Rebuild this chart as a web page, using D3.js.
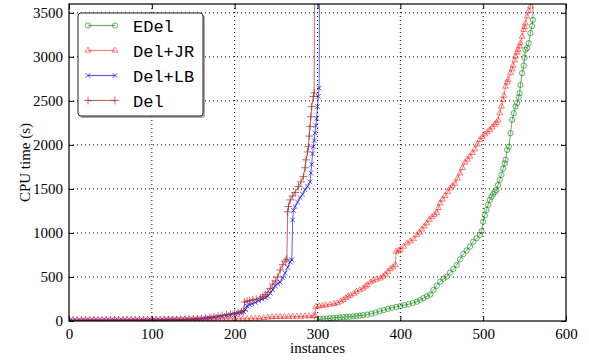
<!DOCTYPE html>
<html>
<head>
<meta charset="utf-8">
<script src="https://cdn.jsdelivr.net/npm/d3@7"></script>
<style>
  body { margin: 0; background: #fff; }
  svg text { fill: #000; }
  .serif { font-family: "Liberation Serif", "Times New Roman", "DejaVu Serif", serif; font-size: 15px; }
  .mono { font-family: "Liberation Mono", "Courier New", "DejaVu Sans Mono", monospace; font-size: 17px; }
</style>
</head>
<body>
<svg id="chart" width="589" height="360"></svg>
<script>
// axis ticks
const xTicks = [0, 100, 200, 300, 400, 500, 600];
const yTicks = [0, 500, 1000, 1500, 2000, 2500, 3000, 3500];

// [instance, CPU seconds]; 6000 = off the top (timeout)
const edel = [
  [299, 15], [303, 20], [307, 24], [311, 27], [315, 31], [319, 34], [323, 38], [327, 41], [331, 44], [335, 47],
  [339, 49], [343, 53], [347, 57], [351, 61], [355, 66], [360, 72], [365, 84], [370, 95], [375, 110], [380, 125],
  [385, 138], [390, 150], [395, 160], [400, 170], [405, 180], [410, 190], [415, 205], [420, 220], [424, 239],
  [428, 260], [432, 280], [436, 300], [440, 352], [444, 400], [448, 447], [452, 480], [456, 504], [460, 550],
  [464, 590], [468, 636], [472, 700], [476, 760], [480, 800], [484, 844], [488, 900], [492, 940], [496, 977],
  [498, 1020], [500, 1128], [502, 1200], [504, 1261], [506, 1320], [508, 1375], [510, 1410], [512, 1440],
  [514, 1465], [516, 1489], [518, 1545], [520, 1602], [522, 1660], [524, 1730], [526, 1790], [527, 1830],
  [529, 1943], [531, 1980], [533, 2133], [535, 2284], [537, 2360], [539, 2435], [541, 2474], [543, 2540],
  [544, 2587], [545, 2680], [547, 2815], [549, 2900], [550, 2990], [551, 3080], [553, 3100], [555, 3155],
  [557, 3270], [559, 3350], [560, 3420], [561, 6000]
];

const delJR = [
  [0, 13], [5, 13], [10, 13], [15, 14], [20, 14], [25, 14], [30, 14], [35, 15], [40, 15], [45, 15], [50, 15],
  [55, 16], [60, 16], [65, 16], [70, 16], [75, 17], [80, 17], [85, 17], [90, 17], [95, 18], [100, 18],
  [105, 18], [110, 18], [115, 19], [120, 19], [125, 19], [130, 19], [135, 20], [140, 20], [145, 20],
  [150, 20], [155, 21], [160, 21], [165, 21], [170, 22], [175, 22], [180, 22], [185, 23], [190, 23],
  [195, 23], [200, 24], [205, 24], [210, 25], [215, 25], [220, 26], [225, 27], [230, 29], [235, 35],
  [240, 42], [245, 45], [250, 46], [255, 47], [260, 48], [265, 49], [270, 50], [275, 51], [280, 52],
  [285, 54], [290, 56], [295, 58], [297, 60], [298, 163], [302, 168], [306, 174], [310, 180], [315, 187],
  [320, 195], [324, 205], [328, 222], [331, 239], [334, 262], [337, 280], [340, 290], [344, 312], [347, 333],
  [351, 352], [355, 370], [358, 392], [360, 409], [364, 440], [367, 460], [371, 472], [376, 485], [379, 505],
  [382, 530], [385, 560], [388, 590], [391, 612], [394, 636], [395, 788], [398, 800], [400, 810], [404, 845],
  [408, 883], [412, 905], [416, 930], [420, 977], [423, 1005], [426, 1040], [429, 1075], [432, 1110],
  [435, 1150], [438, 1180], [441, 1205], [444, 1230], [446, 1285], [448, 1337], [451, 1380], [454, 1420],
  [457, 1465], [460, 1508], [463, 1535], [466, 1560], [469, 1620], [472, 1678], [475, 1740], [478, 1800],
  [481, 1835], [484, 1867], [487, 1910], [490, 1950], [493, 2005], [496, 2057], [499, 2090], [502, 2120],
  [505, 2145], [508, 2170], [511, 2200], [514, 2230], [516, 2250], [518, 2280], [520, 2360], [522, 2436],
  [524, 2510], [525, 2560], [527, 2663], [529, 2710], [530, 2740], [533, 2815], [535, 2860], [536, 2900],
  [538, 2960], [539, 3004], [541, 3050], [542, 3080], [544, 3120], [545, 3155], [547, 3230], [549, 3307],
  [550, 3340], [551, 3380], [553, 3458], [555, 3520], [557, 3572], [558, 6000]
];

const delLB = [
  [0, 2], [5, 2], [10, 2], [15, 3], [20, 3], [25, 3], [30, 3], [35, 4], [40, 4], [45, 4], [50, 4],
  [55, 5], [60, 5], [65, 5], [70, 5], [75, 6], [80, 6], [85, 6], [90, 7], [95, 7], [100, 8], [105, 8],
  [110, 9], [115, 10], [120, 11], [125, 12], [130, 13], [135, 14], [140, 15], [145, 16], [150, 18],
  [155, 21], [160, 24], [165, 30], [170, 36], [175, 42], [180, 50], [185, 57], [190, 64], [195, 72],
  [200, 80], [204, 88], [208, 95], [211, 105], [213, 130], [215, 170], [218, 185], [221, 195], [225, 210],
  [229, 230], [233, 250], [237, 265], [240, 280], [243, 315], [246, 355], [249, 400], [252, 425], [255, 440],
  [258, 490], [261, 545], [264, 610], [267, 670], [269, 695], [270, 1148], [271, 1255], [273, 1300],
  [276, 1350], [279, 1400], [282, 1440], [285, 1490], [288, 1530], [291, 1580], [292, 1680], [293, 1780],
  [294, 1900], [295, 1980], [296, 2050], [297, 2136], [298, 2220], [299, 2300], [300, 2435], [301, 2550],
  [302, 2645], [303, 6000]
];

const del = [
  [0, 2], [5, 2], [10, 3], [15, 3], [20, 3], [25, 4], [30, 4], [35, 4], [40, 4], [45, 5], [50, 5],
  [55, 5], [60, 5], [65, 6], [70, 6], [75, 6], [80, 7], [85, 7], [90, 8], [95, 8], [100, 9], [105, 9],
  [110, 10], [115, 11], [120, 12], [125, 13], [130, 14], [135, 15], [140, 17], [145, 19], [150, 21],
  [155, 24], [160, 28], [165, 33], [170, 40], [175, 46], [180, 55], [185, 62], [190, 70], [195, 78],
  [200, 86], [204, 92], [208, 106], [211, 120], [212, 215], [215, 225], [218, 232], [222, 240], [226, 248],
  [231, 262], [234, 280], [237, 300], [240, 325], [243, 370], [246, 420], [249, 455], [252, 500], [255, 580],
  [258, 640], [261, 680], [263, 700], [264, 1240], [265, 1300], [267, 1375], [270, 1420], [273, 1460],
  [277, 1527], [280, 1580], [283, 1640], [285, 1740], [286, 1830], [288, 1920], [289, 1980], [290, 2100],
  [291, 2208], [292, 2320], [293, 2435], [295, 2550], [296, 2590], [297, 6000]
];

const seriesNames = ['EDel', 'Del+JR', 'Del+LB', 'Del'];
const seriesColors = ['#008000', '#ff0000', '#0000ff', '#a52a2a'];

const series = [
  { name: seriesNames[0], values: edel, color: seriesColors[0], symbol: d3.symbolCircle, size: 22, opacity: 0.6 },
  { name: seriesNames[1], values: delJR, color: seriesColors[1], symbol: d3.symbolTriangle2, size: 24, opacity: 0.5 },
  { name: seriesNames[2], values: delLB, color: seriesColors[2], symbol: d3.symbolX, size: 16, opacity: 0.65 },
  { name: seriesNames[3], values: del, color: seriesColors[3], symbol: d3.symbolPlus, size: 22, opacity: 0.7 }
];

const width = 589, height = 360;
const margin = { top: 4, right: 23, bottom: 39, left: 69 };
const innerW = width - margin.left - margin.right;
const innerH = height - margin.top - margin.bottom;

const svg = d3.select('#chart');
const g = svg.append('g').attr('transform', `translate(${margin.left},${margin.top})`);

const x = d3.scaleLinear().domain([0, 600]).range([0, innerW]);
const y = d3.scaleLinear().domain([0, 3600]).range([innerH, 0]);

// grid
g.append('g')
  .selectAll('line')
  .data(xTicks.slice(1, -1))
  .join('line')
  .attr('x1', d => x(d)).attr('x2', d => x(d))
  .attr('y1', 0).attr('y2', innerH)
  .attr('stroke', '#000').attr('stroke-width', 1).attr('stroke-dasharray', '1,3');

g.append('g')
  .selectAll('line')
  .data(yTicks.slice(1))
  .join('line')
  .attr('x1', 0).attr('x2', innerW)
  .attr('y1', d => y(d)).attr('y2', d => y(d))
  .attr('stroke', '#000').attr('stroke-width', 1).attr('stroke-dasharray', '1,3');

svg.append('defs').append('clipPath').attr('id', 'plot-clip')
  .append('rect').attr('width', innerW).attr('height', innerH);

const plot = g.append('g').attr('clip-path', 'url(#plot-clip)');

const line = d3.line()
  .x(d => x(d[0]))
  .y(d => y(d[1]));

series.forEach(s => {
  const sg = plot.append('g');
  sg.append('path')
    .datum(s.values)
    .attr('d', line)
    .attr('fill', 'none')
    .attr('stroke', s.color)
    .attr('stroke-opacity', s.opacity)
    .attr('stroke-width', 1);
  sg.selectAll('path.m')
    .data(s.values)
    .join('path')
    .attr('class', 'm')
    .attr('transform', d => `translate(${x(d[0])},${y(d[1])})`)
    .attr('d', d3.symbol(s.symbol, s.size))
    .attr('fill', 'none')
    .attr('stroke', s.color)
    .attr('stroke-opacity', s.opacity)
    .attr('stroke-width', 1);
});

// axes: ticks inward on all four sides
const tickLen = 5;
const fmt = d3.format('d');

g.append('rect')
  .attr('width', innerW).attr('height', innerH)
  .attr('fill', 'none').attr('stroke', '#000').attr('stroke-width', 1.2);

const xg = g.append('g').attr('transform', `translate(0,${innerH})`)
  .call(d3.axisBottom(x).tickValues(xTicks).tickFormat(fmt).tickSize(-tickLen).tickPadding(tickLen + 5));
const xtg = g.append('g')
  .call(d3.axisTop(x).tickValues(xTicks).tickSize(-tickLen).tickFormat(''));
const yg = g.append('g')
  .call(d3.axisLeft(y).tickValues(yTicks).tickFormat(fmt).tickSize(-tickLen).tickPadding(tickLen + 1));
const yrg = g.append('g').attr('transform', `translate(${innerW},0)`)
  .call(d3.axisRight(y).tickValues(yTicks).tickSize(-tickLen).tickFormat(''));

[xg, xtg, yg, yrg].forEach(a => {
  a.attr('font-family', null).attr('font-size', null);
  a.select('.domain').remove();
  a.selectAll('.tick line').attr('stroke', '#000').attr('stroke-width', 1);
  a.selectAll('text').attr('class', 'serif').attr('fill', '#000');
});
xg.selectAll('text').attr('dy', '0.5em');

// axis labels
svg.append('text')
  .attr('class', 'serif')
  .attr('x', margin.left + innerW / 2).attr('y', 353)
  .attr('text-anchor', 'middle')
  .text('instances');

svg.append('text')
  .attr('class', 'serif')
  .attr('transform', `translate(30,${margin.top + innerH / 2}) rotate(-90)`)
  .attr('text-anchor', 'middle')
  .text('CPU time (s)');

// legend
const legend = svg.append('g').attr('transform', 'translate(78,13)');
legend.append('rect')
  .attr('x', 2).attr('y', 2).attr('width', 125).attr('height', 103).attr('rx', 3)
  .attr('fill', '#777').attr('opacity', 0.6);
legend.append('rect')
  .attr('width', 125).attr('height', 103).attr('rx', 3)
  .attr('fill', '#fff').attr('stroke', '#222').attr('stroke-width', 1);

series.forEach((s, i) => {
  const row = legend.append('g').attr('transform', `translate(0,${12.5 + i * 25})`);
  row.append('line')
    .attr('x1', 10).attr('x2', 37)
    .attr('stroke', s.color).attr('stroke-opacity', s.opacity).attr('stroke-width', 1.2);
  row.selectAll('path')
    .data([10, 37])
    .join('path')
    .attr('transform', d => `translate(${d},0)`)
    .attr('d', d3.symbol(s.symbol, s.size))
    .attr('fill', 'none')
    .attr('stroke', s.color).attr('stroke-opacity', s.opacity).attr('stroke-width', 1);
  row.append('text')
    .attr('class', 'mono')
    .attr('x', 55).attr('y', 6)
    .text(s.name);
});
</script>
</body>
</html>
